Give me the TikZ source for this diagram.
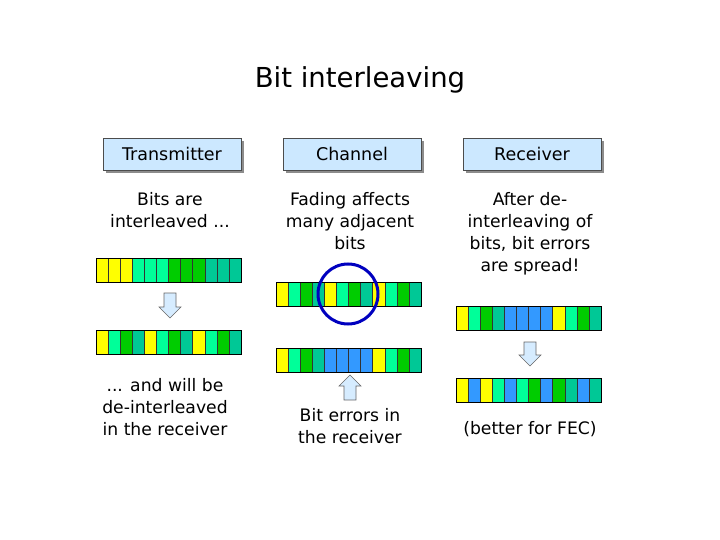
\documentclass[tikz,border=0pt]{standalone}
\usepackage{fontspec}
\setmainfont{DejaVu Sans}
\definecolor{cY}{HTML}{FFFF00}
\definecolor{cL}{HTML}{00FF99}
\definecolor{cG}{HTML}{00CC00}
\definecolor{cT}{HTML}{00C896}
\definecolor{cB}{HTML}{3399FF}
\definecolor{hdr}{HTML}{CCE8FF}
\definecolor{arr}{HTML}{D6ECFF}
\usetikzlibrary{shadows}
\tikzset{
  hbox/.style={draw=black!70,fill=hdr,minimum width=138pt,minimum height=32pt,font=\fontsize{17.5}{20}\selectfont,
    general shadow={fill=black!45,shadow xshift=3pt,shadow yshift=-3pt}},
  txt/.style={align=center,font=\fontsize{17.2}{22}\selectfont},
  cell/.style={draw=black!80,line width=0.8pt},
  blk/.style={draw=black!60,fill=arr,line width=0.6pt}
}
\newcommand{\bitrow}[4]{%
  \foreach \c [count=\i from 0] in {#3}{
    \fill[c\c] (#1+\i*12.1,-#2) rectangle ++(12.1,-24);
    \draw[cell] (#1+\i*12.1,-#2) rectangle ++(12.1,-24);
  }
  \draw[line width=1pt] (#1,-#2) rectangle ++(145.2,-24);
}
\begin{document}
\begin{tikzpicture}[x=1pt,y=1pt]
\useasboundingbox (0,0) rectangle (720,-540);
\node[font=\fontsize{27.5}{32}\selectfont] (title) at (360,-80) {Bit interleaving};
\node[hbox] (tx) at (172,-154) {Transmitter};
\node[hbox] (ch) at (352,-154) {Channel};
\node[hbox] (rx) at (532,-154) {Receiver};
\node[txt,anchor=north] (t1) at (170,-189) {Bits are\\interleaved ...};
\node[txt,anchor=north] (t2) at (350,-189) {Fading affects\\many adjacent\\bits};
\node[txt,anchor=north] (t3) at (530,-189) {After de-\\interleaving of\\bits, bit errors\\are spread!};
\node[txt,anchor=north] (t4) at (165,-375) {... and will be\\de-interleaved\\in the receiver};
\node[txt,anchor=north] (t5) at (350,-405) {Bit errors in\\the receiver};
\node[txt] (t6) at (530,-429) {(better for FEC)};
\bitrow{96}{258}{Y,Y,Y,L,L,L,G,G,G,T,T,T}{}
\bitrow{96}{330}{Y,L,G,T,Y,L,G,T,Y,L,G,T}{}
\bitrow{276}{282}{Y,L,G,T,Y,L,G,T,Y,L,G,T}{}
\bitrow{276}{348}{Y,L,G,T,B,B,B,B,Y,L,G,T}{}
\bitrow{456}{306}{Y,L,G,T,B,B,B,B,Y,L,G,T}{}
\bitrow{456}{378}{Y,B,Y,L,B,L,G,B,G,T,B,T}{}
\node[draw=blue!75!black,line width=3pt,circle,minimum size=60pt] (circ) at (348,-294) {};
\draw[blk] (164,-293) -- (176,-293) -- (176,-307) -- (181,-307) -- (170,-318) -- (159,-307) -- (164,-307) -- cycle;
\draw[blk] (524,-342) -- (536,-342) -- (536,-355) -- (541,-355) -- (530,-366) -- (519,-355) -- (524,-355) -- cycle;
\draw[blk] (344,-400) -- (356,-400) -- (356,-386) -- (361,-386) -- (350,-375) -- (339,-386) -- (344,-386) -- cycle;
\end{tikzpicture}
\end{document}
